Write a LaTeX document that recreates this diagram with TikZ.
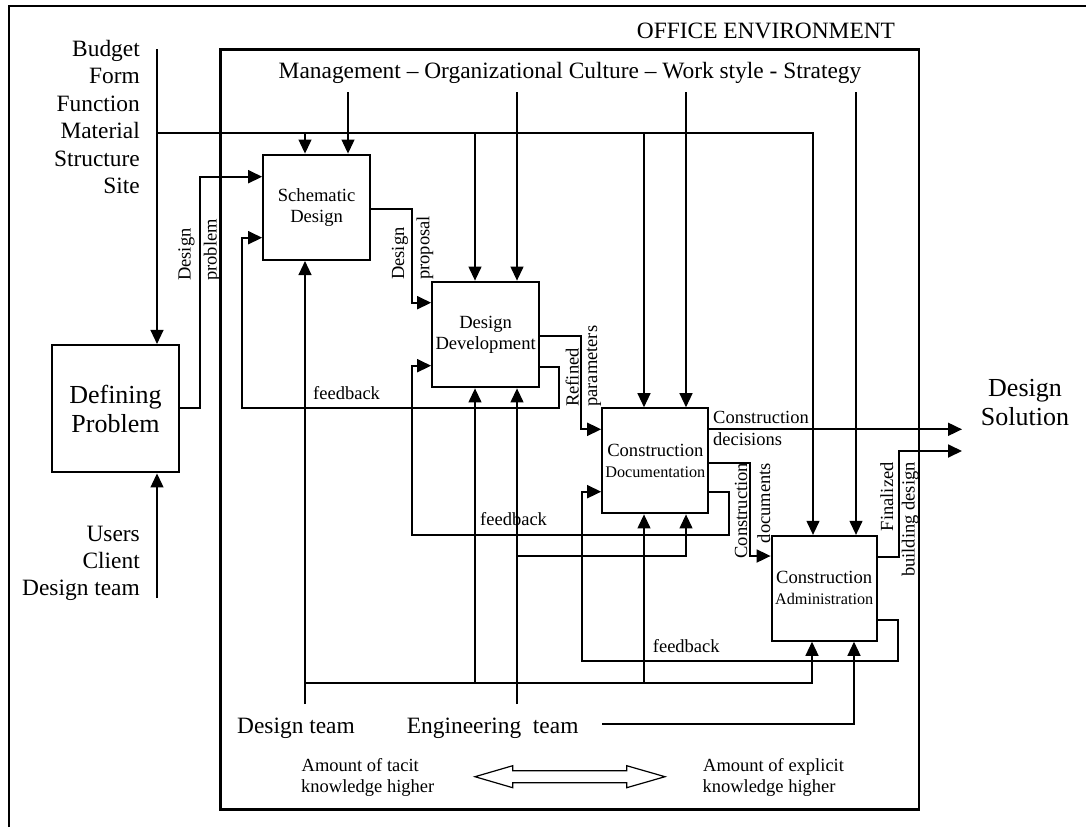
\documentclass[tikz,border=0pt]{standalone}
\usepackage{fontspec}
\setmainfont{Liberation Serif}
\usetikzlibrary{arrows.meta}
\begin{document}
\begin{tikzpicture}[x=1pt,y=-1pt,
  >={Triangle[length=14pt,width=13pt]},
  pageframe/.style={line width=2pt},
  box/.style={draw, line width=2.2pt, inner sep=0pt, align=center,
    font=\fontsize{18.6}{21}\selectfont},
  flow/.style={line width=1.8pt, ->},
  ctrl/.style={line width=1.2pt, ->},
  big/.style={inner sep=0pt, font=\fontsize{23.4}{27.4}\selectfont},
  lbl/.style={inner sep=0pt, font=\fontsize{18.5}{21}\selectfont},
  vlbl/.style={lbl, rotate=90}]

\useasboundingbox (0,0) rectangle (1086,827);

% page frame and office environment
\draw[pageframe] (9,827) -- (9,6) -- (1086,6);
\node[draw, line width=2.2pt, inner sep=0pt, minimum width=698.5pt,
  minimum height=760pt] (office) at (569.75,429.5) {};
\node[big, anchor=base] (envlabel) at (766,38.3) {OFFICE ENVIRONMENT};
\node[big, anchor=base] (mgmt) at (570,78)
  {Management – Organizational Culture – Work style - Strategy};

% external inputs
\node[big, anchor=north east, align=right] (params) at (140,40)
  {Budget\\Form\\Function\\Material\\Structure\\Site};
\node[big, anchor=north east, align=right,
  font=\fontsize{23.4}{26.8}\selectfont] (actors) at (140,526)
  {Users\\Client\\Design team};

% process boxes
\node[box, minimum width=127.6pt, minimum height=127.3pt,
  font=\fontsize{26}{29}\selectfont] (dp) at (115.5,408.7) {Defining\\Problem};
\node[box, minimum width=106.7pt, minimum height=105.3pt] (sd) at (316.6,207.3)
  {Schematic\\Design};
\node[box, minimum width=106.7pt, minimum height=105.6pt] (dd) at (485.6,334.5)
  {Design\\Development};
\node[box, minimum width=106pt, minimum height=105pt] (cdoc) at (655.3,460.8)
  {Construction\\{\fontsize{16.2}{19}\selectfont Documentation}};
\node[box, minimum width=105pt, minimum height=104.7pt] (ca) at (824.2,588.3)
  {Construction\\{\fontsize{16.2}{19}\selectfont Administration}};

% result
\node[inner sep=0pt, align=center, font=\fontsize{26}{29}\selectfont] (sol)
  at (1025,403) {Design\\Solution};
\coordinate (out1) at (962,429.3);
\coordinate (out2) at (962,451);

% teams
\node[big, anchor=base west] (dteam) at (237,733) {Design team};
\node[big, anchor=base west] (eteam) at (406.7,733) {Engineering\ \ team};

% design parameters
\draw[ctrl] (157,49) -- (dp.north -| 157,0);
\draw[ctrl] (157,133) -| (ca.north -| 813,0);
\draw[ctrl] (305,133) -- (sd.north -| 305,0);
\draw[ctrl] (475,133) -- (dd.north -| 475,0);
\draw[ctrl] (644,133) -- (cdoc.north -| 644,0);
% management controls
\draw[ctrl] (348,92) -- (sd.north -| 348,0);
\draw[ctrl] (517,92) -- (dd.north -| 517,0);
\draw[ctrl] (686,92) -- (cdoc.north -| 686,0);
\draw[ctrl] (856,92) -- (ca.north -| 856,0);
% users and client
\draw[ctrl] (157,598) -- (dp.south -| 157,0);

% design team
\draw[ctrl] (305,704) -- (sd.south -| 305,0);
\draw[ctrl] (305,683) -| (ca.south -| 812,0);
\draw[ctrl] (475,683) -- (dd.south -| 475,0);
\draw[ctrl] (644,683) -- (cdoc.south -| 644,0);
% engineering team
\draw[ctrl] (517,704) -- (dd.south -| 517,0);
\draw[ctrl] (517,556) -| (cdoc.south -| 686,0);
\draw[ctrl] (602,724) -| (ca.south -| 854,0);

% main flow
\draw[flow] (dp.east |- 0,407.7) -| (200,176.7) -- (sd.west |- 0,176.7);
\draw[flow] (sd.east |- 0,209.3) -| (411.7,302.7) -- (dd.west |- 0,302.7);
\draw[flow] (dd.east |- 0,336) -| (581,429.3) -- (cdoc.west |- 0,429.3);
\draw[flow] (cdoc.east |- 0,462.7) -| (750,556) -- (ca.west |- 0,556);
\draw[flow] (cdoc.east |- 0,429.3) -- (out1);
\draw[flow] (ca.east |- 0,556.7) -| (899,451) -- (out2);

% feedback loops
\draw[flow] (dd.east |- 0,366.7) -| (559,407.7) -| (242,237.7) -- (sd.west |- 0,237.7);
\draw[flow] (cdoc.east |- 0,492.3) -| (729,535) -| (412,365.7) -- (dd.west |- 0,365.7);
\draw[flow] (ca.east |- 0,620) -| (898.3,660.7) -| (581.7,491.7) -- (cdoc.west |- 0,491.7);

% connector labels
\node[lbl, anchor=base west] (fb1) at (313,399.3) {feedback};
\node[lbl, anchor=base west] (fb2) at (480,525) {feedback};
\node[lbl, anchor=base west] (fb3) at (652.7,652.7) {feedback};
\node[lbl, anchor=base west] (decA) at (713,423) {Construction};
\node[lbl, anchor=base west] (decB) at (713,445) {decisions};

\node[vlbl, anchor=base west] (dpA) at (190.5,281) {Design};
\node[vlbl, anchor=base west] (dpB) at (216.6,281) {problem};
\node[vlbl, anchor=base west] (spA) at (404,280) {Design};
\node[vlbl, anchor=base west] (spB) at (429.3,280) {proposal};
\node[vlbl, anchor=base west] (rpA) at (578.5,407) {Refined};
\node[vlbl, anchor=base west] (rpB) at (597,407) {parameters};
\node[vlbl, anchor=base east] (cdA) at (747,462.7) {Construction};
\node[vlbl, anchor=base east] (cdB) at (770,462.7) {documents};
\node[vlbl, anchor=base east] (fzA) at (893,462) {Finalized};
\node[vlbl, anchor=base east] (fzB) at (914.5,462) {building design};

% knowledge scale
\draw[line width=1.2pt] (475,776.7) -- (512.7,765.7) -- (512.7,770.7)
  -- (626.7,770.7) -- (626.7,765.7) -- (665,776.7) -- (626.7,787.7)
  -- (626.7,782.7) -- (512.7,782.7) -- (512.7,787.7) -- cycle;
\node[lbl, anchor=base west] (tacitA) at (301.5,771) {Amount of tacit};
\node[lbl, anchor=base west] (tacitB) at (301,792) {knowledge higher};
\node[lbl, anchor=base west] (explA) at (703,771) {Amount of explicit};
\node[lbl, anchor=base west] (explB) at (702.3,792) {knowledge higher};

\end{tikzpicture}
\end{document}
